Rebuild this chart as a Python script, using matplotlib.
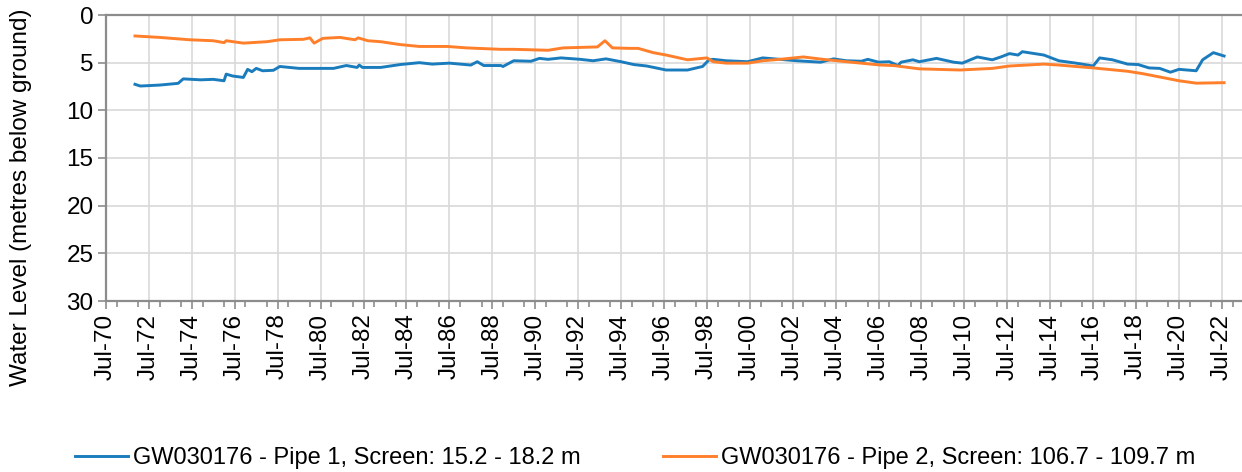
import numpy as np
import matplotlib.pyplot as plt
from matplotlib.ticker import FixedLocator, MultipleLocator

plt.rcParams['font.family'] = ['Liberation Sans', 'DejaVu Sans']

# data (decimal years, metres below ground)

pipe1_year = [1971.85, 1972.1, 1973.0, 1973.86, 1974.1, 1974.9, 1975.5, 1976.0, 1976.1, 1976.4,
              1976.9, 1977.1, 1977.3, 1977.5, 1977.8, 1978.3, 1978.6, 1979.5, 1981.1, 1981.7,
              1982.2, 1982.3, 1982.45, 1983.3, 1984.2, 1985.1, 1985.7, 1986.5, 1987.5, 1987.8,
              1988.1, 1988.9, 1989.0, 1989.5, 1990.3, 1990.7, 1991.1, 1991.7, 1992.6, 1993.2,
              1993.8, 1994.5, 1995.1, 1995.7, 1996.6, 1997.6, 1998.3, 1998.6, 1998.8, 1999.4,
              2000.4, 2001.1, 2001.9, 2002.7, 2003.8, 2004.4, 2005.0, 2005.7, 2006.0, 2006.5,
              2007.0, 2007.4, 2007.55, 2008.1, 2008.4, 2009.2, 2010.0, 2010.4, 2011.1, 2011.8,
              2012.2, 2012.6, 2013.0, 2013.2, 2014.2, 2014.9, 2015.7, 2016.5, 2016.8, 2017.4,
              2018.1, 2018.6, 2019.1, 2019.6, 2020.1, 2020.5, 2021.3, 2021.6, 2022.1, 2022.6]
pipe1_level = [7.27, 7.45, 7.35, 7.17, 6.7, 6.8, 6.75, 6.9, 6.2, 6.4,
               6.55, 5.7, 5.95, 5.6, 5.85, 5.8, 5.4, 5.6, 5.6, 5.3,
               5.5, 5.25, 5.5, 5.5, 5.2, 5.0, 5.15, 5.05, 5.25, 4.9,
               5.3, 5.3, 5.4, 4.8, 4.85, 4.55, 4.65, 4.5, 4.65, 4.8,
               4.6, 4.9, 5.2, 5.35, 5.77, 5.77, 5.4, 4.7, 4.65, 4.8,
               4.9, 4.5, 4.65, 4.8, 4.95, 4.6, 4.8, 4.85, 4.65, 4.95,
               4.9, 5.3, 4.95, 4.7, 4.9, 4.55, 4.95, 5.05, 4.4, 4.7,
               4.4, 4.05, 4.2, 3.85, 4.2, 4.8, 5.05, 5.35, 4.5, 4.7,
               5.15, 5.2, 5.55, 5.6, 6.0, 5.7, 5.85, 4.7, 3.95, 4.3]

pipe2_year = [1971.85, 1973.0, 1974.4, 1975.5, 1976.0, 1976.1, 1976.9, 1978.0, 1978.6, 1979.7,
              1980.0, 1980.2, 1980.6, 1981.4, 1982.1, 1982.25, 1982.7, 1983.3, 1984.2, 1985.1,
              1986.4, 1987.3, 1988.9, 1989.5, 1991.1, 1991.8, 1993.4, 1993.75, 1994.1, 1994.9,
              1995.3, 1996.0, 1996.6, 1997.6, 1998.5, 1998.8, 1999.4, 2000.4, 2001.1, 2001.9,
              2003.0, 2003.9, 2005.0, 2006.6, 2007.2, 2008.4, 2010.3, 2011.8, 2012.6, 2014.2,
              2014.9, 2016.5, 2018.1, 2018.8, 2019.6, 2020.5, 2021.3, 2022.6]
pipe2_level = [2.2, 2.35, 2.6, 2.7, 2.9, 2.7, 2.95, 2.8, 2.6, 2.55,
               2.4, 2.95, 2.45, 2.35, 2.6, 2.4, 2.7, 2.8, 3.1, 3.3,
               3.3, 3.45, 3.6, 3.6, 3.7, 3.45, 3.35, 2.7, 3.45, 3.5,
               3.5, 3.95, 4.2, 4.7, 4.5, 4.9, 5.05, 5.05, 4.8, 4.65,
               4.4, 4.65, 4.9, 5.25, 5.3, 5.65, 5.77, 5.6, 5.35, 5.15,
               5.25, 5.55, 5.9, 6.15, 6.5, 6.9, 7.15, 7.1]

tick_years = [1970.5 + 2 * i for i in range(27)]
tick_labels = ['Jul-%02d' % ((70 + 2 * i) % 100) for i in range(27)]

label1 = 'GW030176 - Pipe 1, Screen: 15.2 - 18.2 m'
label2 = 'GW030176 - Pipe 2, Screen: 106.7 - 109.7 m'

# chart

fig = plt.figure(figsize=(12.42, 4.72), dpi=100)
ax = fig.add_axes([106 / 1242, 1 - 301 / 472, 1 - 106 / 1242, 286 / 472])

ax.plot(pipe1_year, pipe1_level, color='#1a7cbd', lw=2.1, label=label1)
ax.plot(pipe2_year, pipe2_level, color='#ff7f2a', lw=2.1, label=label2)

ax.set_ylim(30, 0)
ax.set_yticks(range(0, 31, 5))
ax.set_xlim(1970.5, 1970.5 + (1242 - 106) / 21.46)
ax.xaxis.set_major_locator(FixedLocator(tick_years))
ax.set_xticklabels(tick_labels, rotation=90)
ax.xaxis.set_minor_locator(MultipleLocator(1))

ax.grid(True, color='#d9d9d9', lw=1.2)
ax.set_axisbelow(True)
for side in ['left', 'bottom', 'top']:
    ax.spines[side].set_color('#8c8c8c')
    ax.spines[side].set_linewidth(1.6)
ax.spines['right'].set_visible(False)
ax.tick_params(axis='both', which='major', length=6, width=1.2, color='#8c8c8c',
               labelsize=17.5, pad=3)
ax.tick_params(axis='x', which='minor', length=4, width=1.2, color='#8c8c8c')

fig.text(0.017, 0.583, 'Water Level (metres below ground)', rotation=90, fontsize=17.5,
         ha='center', va='center')

fig.legend(loc='center left', bbox_to_anchor=(75 / 1242, 1 - 458 / 472), ncol=2,
           frameon=False, fontsize=17, handlelength=2.25, columnspacing=3.5,
           handletextpad=0.2, borderaxespad=0, borderpad=0)

fig.savefig('out.png', dpi=100)
